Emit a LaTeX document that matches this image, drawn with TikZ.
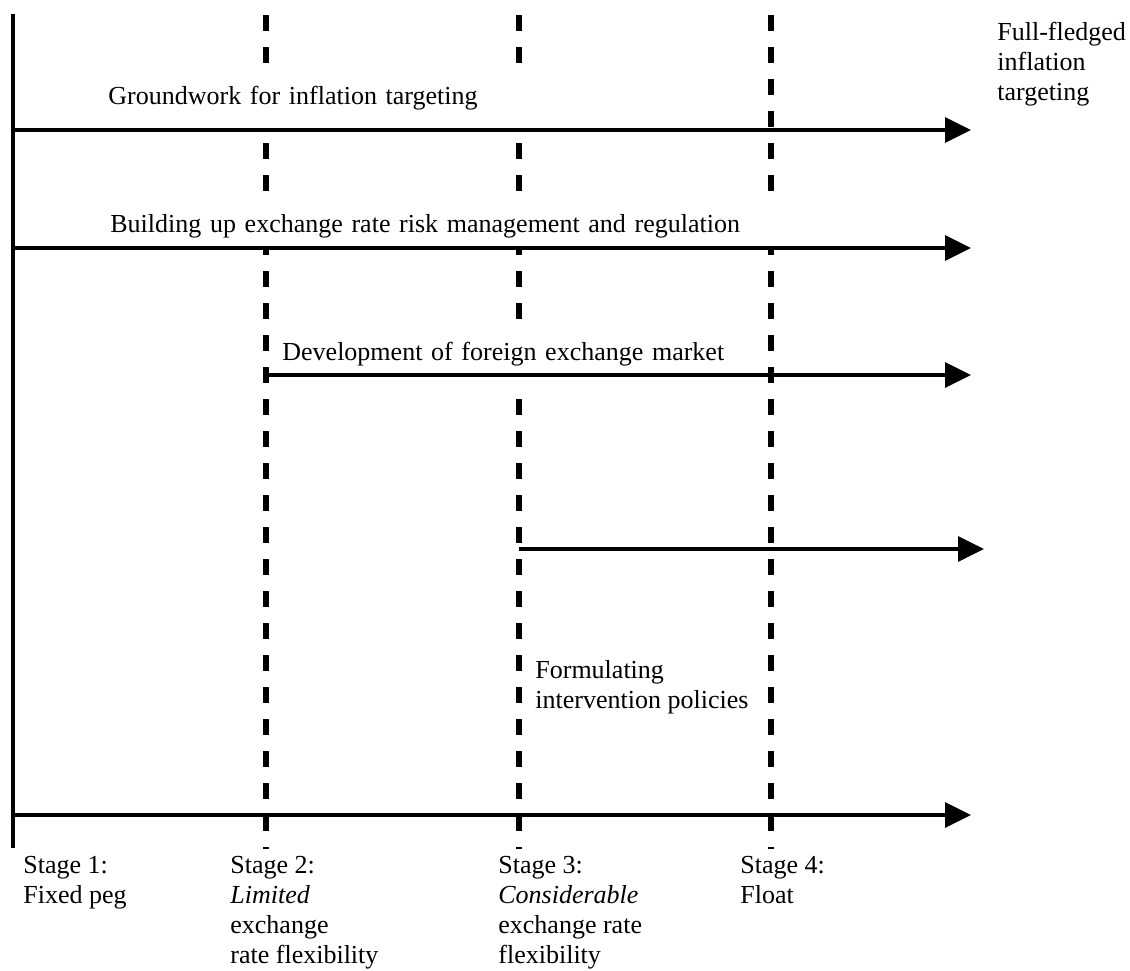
\documentclass[tikz,border=0pt]{standalone}
\usepackage{fontspec}
\setmainfont{Liberation Serif}
\usetikzlibrary{arrows.meta}
\begin{document}
\begin{tikzpicture}[x=0.5pt,y=-0.5pt,
  lbl/.style={inner sep=0pt, anchor=base west, align=left, font=\fontsize{13}{15}\selectfont},
  mlbl/.style={inner sep=0pt, anchor=north west, align=left, font=\fontsize{13}{15}\selectfont},
  cover/.style={lbl, fill=white, inner xsep=4pt},
  stageline/.style={line width=3pt, dash pattern=on 8pt off 8pt},
  axisline/.style={line width=2pt},
  flow/.style={line width=1.75pt, -{Triangle[length=13pt,width=12.5pt]}}
]
\useasboundingbox (0,0) rectangle (1130,970);

% stage boundaries
\coordinate (s1t) at (13,14);  \coordinate (s1b) at (13,848);
\coordinate (s2t) at (266,15); \coordinate (s2b) at (266,849);
\coordinate (s3t) at (519,15); \coordinate (s3b) at (519,849);
\coordinate (s4t) at (771,15); \coordinate (s4b) at (771,849);
\draw[axisline] (s1t) -- (s1b);
\draw[stageline] (s2t) -- (s2b);
\draw[stageline] (s3t) -- (s3b);
\draw[stageline] (s4t) -- (s4b);

% labels with white boxes
\node[cover, text width=207pt, text height=18pt, text depth=11.5pt] (tG) at (100,104) {Groundwork for inflation targeting};
\node[cover, text width=331pt, text height=18.5pt, text depth=7pt] (tB) at (102,232) {Building up exchange rate risk management and regulation};
\node[cover, text width=230pt, text height=19pt, text depth=12.5pt] (tD) at (274,360) {Development of foreign exchange market};

% arrows
\coordinate (a1s) at (13,130);  \coordinate (a1e) at (971,130);
\coordinate (a2s) at (13,248);  \coordinate (a2e) at (971,248);
\coordinate (a3s) at (266,375); \coordinate (a3e) at (971,375);
\coordinate (a4s) at (519,549); \coordinate (a4e) at (984,549);
\coordinate (a5s) at (13,815);  \coordinate (a5e) at (971,815);
\draw[flow] (a1s) -- (a1e);
\draw[flow] (a2s) -- (a2e);
\draw[flow] (a3s) -- (a3e);
\draw[flow] (a4s) -- (a4e);
\draw[flow] (a5s) -- (a5e);

\node[mlbl] (tF) at (997,19) {\strut Full-fledged\\inflation\\targeting};
\node[mlbl] (tP) at (535,657) {\strut Formulating\\intervention policies};

\node[mlbl] (st1) at (23,852) {\strut Stage 1:\\Fixed peg};
\node[mlbl] (st2) at (230,852) {\strut Stage 2:\\\textit{Limited}\\exchange\\rate flexibility};
\node[mlbl] (st3) at (498,852) {\strut Stage 3:\\\textit{Considerable}\\exchange rate\\flexibility};
\node[mlbl] (st4) at (740,852) {\strut Stage 4:\\Float};
\end{tikzpicture}
\end{document}
